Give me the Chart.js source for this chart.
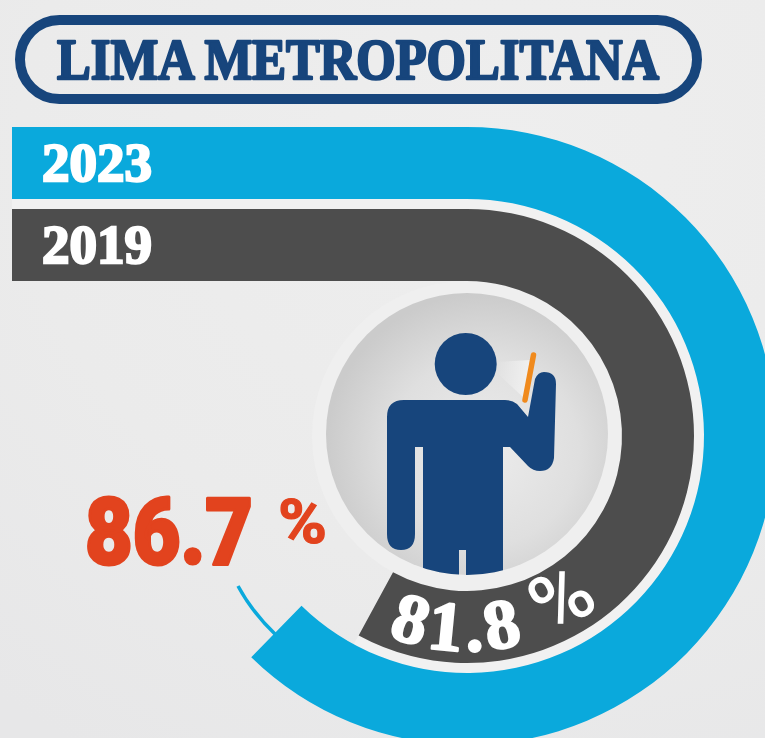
<!DOCTYPE html>
<html lang="es">
<head>
<meta charset="utf-8">
<title>Lima Metropolitana</title>
<script src="https://cdn.jsdelivr.net/npm/chart.js@4/dist/chart.umd.min.js"></script>
<style>
html,body{margin:0;padding:0;width:765px;height:738px;overflow:hidden;}
#stage{position:relative;width:765px;height:738px;overflow:hidden;
  background:radial-gradient(ellipse 800px 700px at 500px 150px,#eeeeee 0%,#ebebeb 60%,#e7e7e8 100%);}
#stage svg,#stage canvas{position:absolute;left:0;top:0;}
</style>
</head>
<body>
<div id="stage">
<svg id="under" width="765" height="738" viewBox="0 0 765 738">
  <defs>
    <radialGradient id="disk" cx="0.56" cy="0.56" r="0.56">
      <stop offset="0" stop-color="#ececec"/>
      <stop offset="0.6" stop-color="#dfdfdf"/>
      <stop offset="1" stop-color="#cbcbcb"/>
    </radialGradient>
    <linearGradient id="glow" x1="0" y1="0" x2="1" y2="0">
      <stop offset="0" stop-color="#fff" stop-opacity="0"/>
      <stop offset="1" stop-color="#fff" stop-opacity="0.55"/>
    </linearGradient>
    <clipPath id="diskClip"><circle cx="467" cy="434" r="141"/></clipPath>
  </defs>
  <path d="M12 204 H467 A232 232 0 1 1 356 640" fill="none" stroke="#f1f1f1" stroke-width="11"/>
  <circle cx="467" cy="436" r="155" fill="#efefef"/>
  <circle cx="467" cy="434" r="141" fill="url(#disk)"/>
  <polygon points="496,362 530,360 524,398 496,372" fill="url(#glow)"/>
  <g clip-path="url(#diskClip)" fill="#17457c">
    <circle cx="465.7" cy="364" r="31"/>
    <path d="M404 400 H505 Q512 400 517 404 L528 417 L535 379 Q538 372 544 372 Q556 372 556 384 L554 458 Q552 471 540 471 Q533 471 528 466 L510 447 H503 V590 H466 V550 H459 V590 H423 V447 H415 V534 Q415 550 401 550 Q387 550 387 534 V417 Q387 400 404 400 Z"/>
  </g>
  <line x1="533.5" y1="355" x2="525" y2="400" stroke="#f08a1d" stroke-width="5.5" stroke-linecap="round"/>
  <path d="M238 586 Q252 612 275 634" fill="none" stroke="#0aa9dc" stroke-width="3.5"/>
</svg>
<canvas id="rings" width="934" height="872" style="width:934px;height:872px"></canvas>
<canvas id="bars" width="765" height="738" style="width:765px;height:738px"></canvas>
<svg id="over" width="765" height="738" viewBox="0 0 765 738">
  <defs><path id="arcBase" d="M388 636 A215 215 0 0 0 653 543.5"/></defs>
  <rect x="20" y="20" width="677" height="79" rx="39.5" fill="none" stroke="#17457c" stroke-width="10"/>
  <text id="title" x="57" y="79" textLength="602" lengthAdjust="spacingAndGlyphs"
        font-family="'Liberation Serif',serif" font-weight="700" font-size="56" fill="#17457c" stroke="#17457c" stroke-width="2.4" stroke-linejoin="round"></text>
  <text id="redNum" x="85" y="564" textLength="168" lengthAdjust="spacingAndGlyphs"
        font-family="Roboto,Lato,sans-serif" font-weight="900" font-size="93" fill="#e2431e" stroke="#e2431e" stroke-width="3" stroke-linejoin="round"></text>
  <text id="redPct" x="278" y="543" textLength="49" lengthAdjust="spacingAndGlyphs"
        font-family="Roboto,Lato,sans-serif" font-weight="700" font-size="62" fill="#e2431e" stroke="#e2431e" stroke-width="1.2">%</text>
  <text font-family="'Liberation Serif',serif" font-weight="700" font-size="70" letter-spacing="5" fill="#fff" stroke="#fff" stroke-width="2.4" stroke-linejoin="round"><textPath id="whiteNum" href="#arcBase"></textPath></text>
  <text font-family="Roboto,Lato,sans-serif" font-weight="500" font-size="80" fill="#fff"><textPath href="#arcBase" startOffset="165">%</textPath></text>
</svg>
</div>
<script>
const titleText = "LIMA METROPOLITANA";
const years = ["2023", "2019"];
const shares = [86.7, 81.8];
const rests = [13.3, 18.2];
const straightLead = [100, 100];
const arcSweeps = [258.7, 254.9];
const yearColors = ["#0aa9dc", "#4d4d4d"];

document.getElementById("title").textContent = titleText;
document.getElementById("redNum").textContent = shares[0].toFixed(1);
document.getElementById("whiteNum").textContent = shares[1].toFixed(1);

new Chart(document.getElementById("rings"), {
  type: "doughnut",
  data: {
    labels: ["share", "rest"],
    datasets: [
      { label: years[0], data: [shares[0], rests[0]], backgroundColor: [yearColors[0], "rgba(0,0,0,0)"], circumference: arcSweeps[0], weight: 72, borderWidth: 0 },
      { label: "gap", data: [100], backgroundColor: ["rgba(0,0,0,0)"], weight: 10, borderWidth: 0 },
      { label: years[1], data: [shares[1], rests[1]], backgroundColor: [yearColors[1], "rgba(0,0,0,0)"], circumference: arcSweeps[1], weight: 72, borderWidth: 0 }
    ]
  },
  options: {
    responsive: false,
    animation: false,
    cutout: "50.16%",
    layout: { padding: { left: 158, right: 158, top: 127, bottom: 127 } },
    plugins: { legend: { display: false }, tooltip: { enabled: false } }
  }
});

new Chart(document.getElementById("bars"), {
  type: "bar",
  data: {
    labels: years,
    datasets: [{
      data: straightLead,
      backgroundColor: yearColors,
      borderWidth: 0,
      barPercentage: 0.88,
      categoryPercentage: 1
    }]
  },
  options: {
    indexAxis: "y",
    responsive: false,
    animation: false,
    layout: { padding: { left: 12, right: 298, top: 122, bottom: 452 } },
    scales: {
      x: { display: false, min: 0, max: 100 },
      y: {
        afterFit: (axis) => { axis.width = 0; },
        grid: { display: false },
        border: { display: false },
        ticks: {
          mirror: true,
          padding: 30,
          labelOffset: 4,
          z: 1,
          color: "#ffffff",
          textStrokeColor: "#ffffff",
          textStrokeWidth: 2.4,
          font: { family: "'Liberation Serif',serif", weight: "700", size: 55 }
        }
      }
    },
    plugins: { legend: { display: false }, tooltip: { enabled: false } }
  }
});
</script>
</body>
</html>
